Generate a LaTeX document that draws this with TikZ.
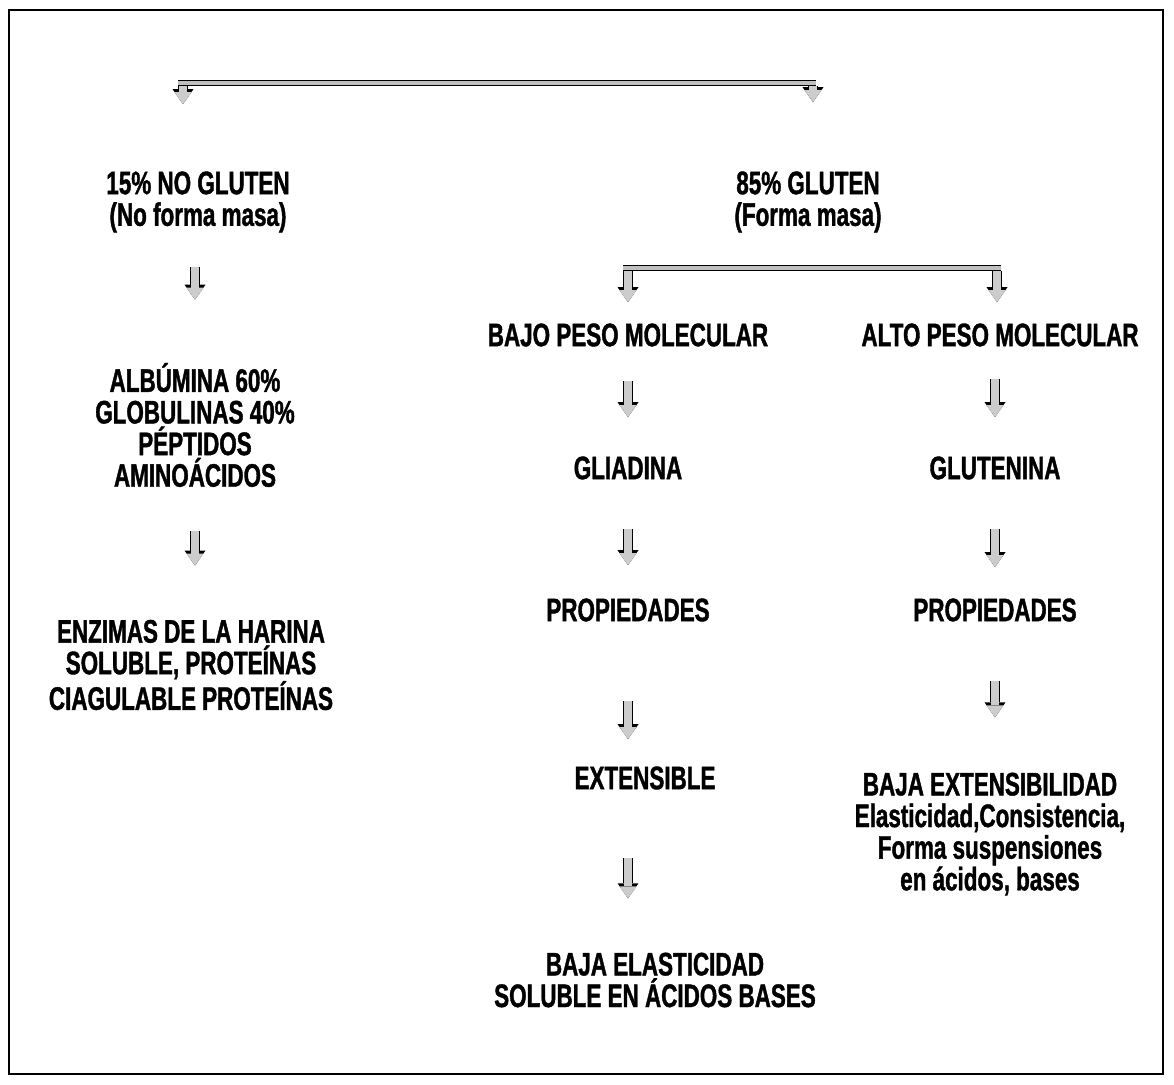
\documentclass[tikz,border=0pt]{standalone}
\usepackage{fontspec}
\newfontfamily\cf[FakeStretch=0.69, BoldFeatures={FakeBold=1.2}]{Liberation Sans}
\usetikzlibrary{arrows.meta}

\begin{document}
\begin{tikzpicture}[x=0.2mm, y=-0.2mm,
  txt/.style={font=\cf\bfseries\fontsize{18.5pt}{18pt}\selectfont, align=center, inner sep=0pt},
  barra/.style={draw=black, line width=0.3mm, double=gray!50, double distance=0.7mm},
  flecha/.style={draw=gray!40, line width=1.5mm,
    -{Triangle[width=3.4mm, length=2.4mm, line width=0pt]},
    preaction={draw=black, line width=2.1mm,
      -{Triangle[width=4.2mm, length=3mm, line width=0pt]}}}]
  \useasboundingbox (0,0) rectangle (1174,1084);
  % Marco
  \draw[line width=0.4mm] (9,10) rectangle (1163,1074);
  % Columnas y barras
  \coordinate (colL) at (195,0);
  \coordinate (colM) at (628,0);
  \coordinate (colR) at (995,0);
  \coordinate (t1) at (183,83);
  \coordinate (t2) at (813,83);
  \coordinate (b1) at (628,268);
  \coordinate (b2) at (997,268);
  \draw[barra] ([xshift=-1mm]t1) -- ([xshift=0.6mm]t2);
  \draw[barra] ([xshift=-1mm]b1) -- ([xshift=0.8mm]b2);
  % Textos
  \node[txt] (nog) at (198,202) {15\% NO GLUTEN\\(No forma masa)};
  \node[txt] (glu) at (808,202) {85\% GLUTEN\\(Forma masa)};
  \node[txt] (alb) at (195,425) {ALBÚMINA 60\%\\GLOBULINAS 40\%\\PÉPTIDOS\\AMINOÁCIDOS};
  \node[txt] (enz) at (191,665) {ENZIMAS DE LA HARINA\\SOLUBLE, PROTEÍNAS\\CIAGULABLE PROTEÍNAS};
  \node[txt] (bajo) at (628,335) {BAJO PESO MOLECULAR};
  \node[txt] (alto) at (1000,335) {ALTO PESO MOLECULAR};
  \node[txt] (glia) at (628,468) {GLIADINA};
  \node[txt] (glut) at (995,468) {GLUTENINA};
  \node[txt] (pro1) at (628,610) {PROPIEDADES};
  \node[txt] (pro2) at (995,610) {PROPIEDADES};
  \node[txt] (ext) at (645,778) {EXTENSIBLE};
  \node[txt] (bex) at (990,834) {BAJA EXTENSIBILIDAD\\Elasticidad,Consistencia,\\Forma suspensiones\\en ácidos, bases};
  \node[txt] (bel) at (655,980) {BAJA ELASTICIDAD\\SOLUBLE EN ÁCIDOS BASES};
  % Flechas
  \draw[flecha, shorten <=0.6mm, shorten >=13.4mm] (t1) -- (t1 |- nog.north);
  \draw[flecha, shorten <=0.6mm, shorten >=13.8mm] (t2) -- (t2 |- glu.north);
  \draw[flecha, shorten <=0.6mm, shorten >=4.2mm] (b1) -- (b1 |- bajo.north);
  \draw[flecha, shorten <=0.6mm, shorten >=4.2mm] (b2) -- (b2 |- alto.north);
  \foreach \a/\b/\c/\s/\e in {nog/alb/colL/6.8mm/12.6mm, alb/enz/colL/8.8mm/10.8mm,
      bajo/glia/colM/6.8mm/7.8mm, alto/glut/colR/6.4mm/7.8mm,
      glia/pro1/colM/9.8mm/6.6mm, glut/pro2/colR/9.8mm/6.2mm,
      pro1/ext/colM/15.8mm/5.4mm, pro2/bex/colR/11.8mm/11mm,
      ext/bel/colM/13.6mm/10.8mm}
    \draw[flecha, shorten <=\s, shorten >=\e] (\a.south -| \c) -- (\b.north -| \c);
\end{tikzpicture}
\end{document}
